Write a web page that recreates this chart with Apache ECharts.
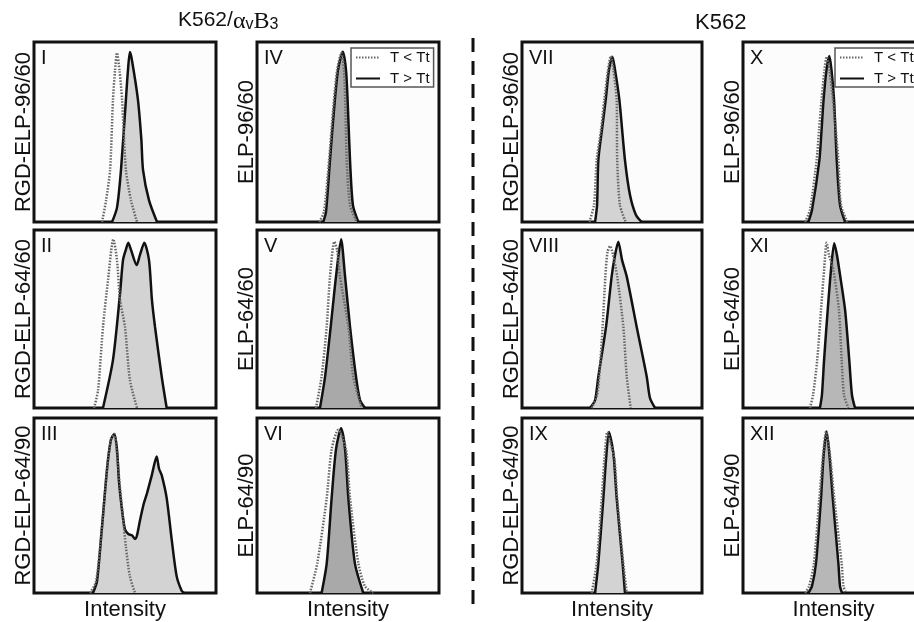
<!DOCTYPE html>
<html>
<head>
<meta charset="utf-8">
<script src="https://cdn.jsdelivr.net/npm/echarts@6/dist/echarts.min.js"></script>
<style>
html, body { margin: 0; padding: 0; background: #fff; overflow: hidden; }
#chart { width: 940px; height: 622px; }
</style>
</head>
<body>
<div id="chart"></div>
<script>
const panelNames = ['I', 'II', 'III', 'IV', 'V', 'VI', 'VII', 'VIII', 'IX', 'X', 'XI', 'XII'];
const sampleLabels = [
    'RGD-ELP-96/60', 'RGD-ELP-64/60', 'RGD-ELP-64/90',
    'ELP-96/60', 'ELP-64/60', 'ELP-64/90',
    'RGD-ELP-96/60', 'RGD-ELP-64/60', 'RGD-ELP-64/90',
    'ELP-96/60', 'ELP-64/60', 'ELP-64/90'
];
const seriesNames = ['T < Tt', 'T > Tt'];
const axisName = 'Intensity';

// [intensity %, count %]; below = T < Tt (dotted), above = T > Tt (solid)
const belowI = [[37.4,0],[39.6,12],[41.8,29],[43.4,68],[44.5,84],[45.6,94],[47,84],[48.4,68],[50.5,29],[53.3,12],[56.6,0]];
const aboveI = [[42.9,0],[45.6,8],[47.8,29],[50.5,68],[51.6,84],[52.7,94.4],[53.8,90],[57.1,68],[59,45.6],[59.9,29],[63.2,12],[67.6,0]];

const belowII = [[33,0],[35.2,10],[37.9,45.5],[40.7,72],[43.6,94.8],[45.6,83],[47.3,60.7],[50,45.5],[52.7,15.7],[56.6,0]];
const aboveII = [[37.9,0],[43.4,27],[47.3,64.6],[48.9,83.1],[50.5,89],[51.8,92.9],[53.3,88.8],[56.4,80.3],[58.2,86],[60.6,92.9],[63.2,83.1],[64.8,60.7],[66.5,45.5],[70.2,17.4],[72.9,0]];

const belowIII = [[30.8,0],[34.1,6.7],[37.2,35.8],[40.3,72.6],[42.3,87.7],[44.1,90.9],[45.6,79.3],[47.3,59.8],[48.9,43],[50.5,26.3],[52.7,9.5],[55.5,0]];
const aboveIII = [[32.4,0],[34.6,6.7],[37.2,35.8],[40.3,72.6],[42.3,87.7],[44.1,90.9],[45.6,82.1],[46.7,63.7],[48.7,44.7],[50,36.3],[51.8,33.7],[53.8,33],[55.5,30.9],[56.6,33],[58.2,41.3],[60.4,51.4],[62.1,57],[64.7,67.2],[67.4,78],[68.7,71],[70.2,67.2],[72.9,54.2],[75.7,30.2],[78.4,9.5],[81.2,1.1],[82.4,0]];

const belowIV = [[34.2,0],[36.8,5.6],[39.6,34.4],[41.8,62.2],[44,84.4],[46.4,93.9],[47.8,84.4],[48.6,62.2],[49.3,34.4],[51.1,9.4],[54.8,0]];
const aboveIV = [[36.4,0],[37.9,5.6],[40.1,34.4],[42.3,62.2],[44.5,84.4],[47.1,94.6],[48.9,84.4],[50,62.2],[51.1,34.4],[52.7,9.4],[55.7,0]];

const belowV = [[32.4,0],[35.5,17.6],[38.3,45.7],[40.1,73.8],[42.5,93.4],[44,88.8],[45.6,73.8],[50.2,45.7],[52.9,17.6],[57.5,0]];
const aboveV = [[34.6,0],[37.4,17.6],[40.5,45.7],[43.4,73.8],[46.2,94.8],[48.4,73.8],[51.1,45.7],[54.4,17.6],[56.6,4.5],[59.3,0]];

const belowVI = [[29.1,0],[33.1,16.9],[38.3,54.2],[41,82.1],[44.7,93.3],[48.9,82.1],[51.1,54.2],[55.7,16.9],[59.3,3.9],[63.9,0]];
const aboveVI = [[35.5,0],[38.3,16.9],[41,54.2],[43.4,82.1],[46.2,94.2],[48.4,82.1],[50.2,54.2],[53.8,16.9],[58.4,0]];

const belowVII = [[37.4,0],[40,9.4],[41.5,34.4],[43.9,51.1],[45.7,67.8],[47.8,84.4],[49.3,92.2],[50.8,84.4],[52.6,67.8],[52.9,34.4],[54.4,9.4],[57.6,0]];
const aboveVII = [[40.6,0],[41.7,9.4],[42.4,34.4],[44.4,51.1],[46.5,67.8],[48.3,84.4],[50.2,91.8],[51.7,84.4],[54.1,67.8],[57.2,34.4],[60,15],[63.3,3.9],[66.5,0]];

const belowVIII = [[38.7,0],[41.7,7.3],[42.9,17.6],[44.8,45.7],[46.3,73.8],[47.5,87.6],[48.9,91],[50.6,86],[52.9,73.8],[56.3,45.7],[58.2,17.6],[60.4,0]];
const aboveVIII = [[37.8,0],[40.6,4.5],[42.4,17.6],[46.7,45.7],[49.8,73.8],[51.7,86],[53.5,93.4],[55.6,83.1],[58.2,73.8],[63.7,45.7],[69.3,17.6],[71.1,5.6],[73.9,0]];

const belowIX = [[38.7,0],[41.5,16.9],[44.3,54.2],[45.8,76.5],[47.4,92],[49.4,84.9],[51.4,76.5],[52.9,54.2],[56.3,16.9],[58.2,0]];
const aboveIX = [[40.6,0],[42.4,16.9],[45.2,54.2],[46.7,76.5],[48.3,92],[50,84.9],[51.1,76.5],[52.6,54.2],[55.9,16.9],[57.2,0]];

const belowX = [[34.3,0],[37,6.7],[40.7,34.4],[42,51.1],[43.4,67.8],[45,84.4],[46.2,91.8],[47.8,84.4],[49.7,67.8],[52.7,34.4],[54.1,9.4],[57.6,0]];
const aboveX = [[36.1,0],[38.1,6.7],[42.2,34.4],[43.4,51.1],[44.5,67.8],[46.1,84.4],[47.7,92.2],[48.9,84.4],[50.3,67.8],[51.8,34.4],[53.6,9.4],[56.4,0]];

const belowXI = [[37,0],[38.7,7.3],[41,27],[43.1,55.1],[44.8,77.5],[46.2,92.9],[47.5,86],[49.9,77.5],[53,55.1],[54.5,27],[55.8,7.3],[58.2,0]];
const aboveXI = [[42.5,0],[43.6,7.3],[44.8,27],[46.8,55.1],[48.6,77.5],[50.4,92.5],[51.9,86],[53.2,77.5],[56.4,55.1],[58.7,27],[60.2,7.3],[61.9,0]];

const belowXII = [[34.3,0],[36.5,3.9],[39.2,16.9],[42.2,54.2],[44.2,78.4],[45.9,92.2],[48.1,78.4],[50.4,54.2],[54.5,16.9],[55.5,3.9],[56.9,0]];
const aboveXII = [[36.1,0],[38.1,3.9],[40.3,16.9],[43.1,54.2],[44.5,78.4],[46.2,92.3],[47.8,78.4],[49.6,54.2],[52.7,16.9],[53.6,3.9],[54.7,0]];

const belowAll = [belowI, belowII, belowIII, belowIV, belowV, belowVI, belowVII, belowVIII, belowIX, belowX, belowXI, belowXII];
const aboveAll = [aboveI, aboveII, aboveIII, aboveIV, aboveV, aboveVI, aboveVII, aboveVIII, aboveIX, aboveX, aboveXI, aboveXII];

// layout (the last column runs past the right edge of the window, like the reference)
const colLeft = [34, 257, 522, 743];
const colWidth = [182, 182, 180, 181];
const rowTop = [42, 230, 418];
const rowHeight = [180, 178, 179];
const fillColors = ['#d3d3d3', '#a9a9a9', '#d3d3d3', '#b7b7b7'];
const font = 'Liberation Sans, Arial, sans-serif';

const grids = [], xAxes = [], yAxes = [], series = [], titles = [];

panelNames.forEach((name, i) => {
    const col = Math.floor(i / 3), row = i % 3;
    grids.push({
        left: colLeft[col], top: rowTop[row], width: colWidth[col], height: rowHeight[row],
        show: true, borderColor: '#111', borderWidth: 3, backgroundColor: '#fcfcfc'
    });
    xAxes.push({
        gridIndex: i, type: 'value', min: 0, max: 100,
        axisLine: { show: false }, axisTick: { show: false }, axisLabel: { show: false }, splitLine: { show: false },
        name: row === 2 ? axisName : '', nameLocation: 'middle', nameGap: 6,
        nameTextStyle: { fontSize: 22, color: '#111', fontFamily: font, verticalAlign: 'top' }
    });
    yAxes.push({
        gridIndex: i, type: 'value', min: 0, max: 100,
        axisLine: { show: false }, axisTick: { show: false }, axisLabel: { show: false }, splitLine: { show: false },
        name: sampleLabels[i], nameLocation: 'middle', nameRotate: 90, nameGap: -1,
        nameTextStyle: { fontSize: 22, color: '#111', fontFamily: font, verticalAlign: 'bottom' }
    });
    series.push({
        name: seriesNames[1], type: 'line', xAxisIndex: i, yAxisIndex: i,
        data: aboveAll[i], symbol: 'none', smooth: 0.25,
        lineStyle: { color: '#111', width: 2.5 },
        itemStyle: { color: '#111' },
        areaStyle: { color: fillColors[col], opacity: 1 },
        z: 2
    });
    series.push({
        name: seriesNames[0], type: 'line', xAxisIndex: i, yAxisIndex: i,
        data: belowAll[i], symbol: 'none', smooth: 0.25,
        lineStyle: { color: '#666', width: 2.5, type: [1.5, 1.5] },
        itemStyle: { color: '#666' },
        z: 3
    });
    titles.push({
        text: name, left: colLeft[col] + 7, top: rowTop[row] + 6, padding: 0,
        textStyle: { fontSize: 20, fontWeight: 'normal', color: '#111', fontFamily: font }
    });
});

titles.push({
    text: '{a|K562/}{g|α}{s|v}{g|B}{s|3}', left: 178, top: 10, padding: 0,
    textStyle: {
        fontWeight: 'normal',
        rich: {
            a: { fontSize: 21, fontWeight: 'normal', fontFamily: font, color: '#111', lineHeight: 25, verticalAlign: 'top' },
            g: { fontSize: 24, fontWeight: 'normal', fontFamily: 'Liberation Serif, serif', color: '#111', lineHeight: 25, verticalAlign: 'top' },
            s: { fontSize: 16, fontWeight: 'normal', fontFamily: font, color: '#111', lineHeight: 25, verticalAlign: 'top', padding: [7, 0, 0, 0] }
        }
    }
});
titles.push({
    text: 'K562', left: 695, top: 12, padding: 0,
    textStyle: { fontSize: 22, fontWeight: 'normal', color: '#111', fontFamily: font }
});

const legendBase = {
    orient: 'vertical', top: 48, itemWidth: 24, itemHeight: 10, itemGap: 6,
    padding: [2, 4, 1, 4], borderColor: '#555', borderWidth: 1.5, backgroundColor: '#fff',
    selectedMode: false, data: seriesNames,
    itemStyle: { opacity: 0 },
    textStyle: { fontSize: 15, lineHeight: 13, color: '#111', fontFamily: font, padding: [0, 0, 0, 5] }
};

const myChart = echarts.init(document.getElementById('chart'));
myChart.setOption({
    animation: false,
    backgroundColor: '#fff',
    title: titles,
    legend: [
        Object.assign({}, legendBase, { left: 351 }),
        Object.assign({}, legendBase, { left: 835 })
    ],
    grid: grids,
    xAxis: xAxes,
    yAxis: yAxes,
    series: series,
    graphic: [{
        type: 'line', shape: { x1: 473, y1: 38, x2: 473, y2: 606 },
        style: { stroke: '#111', lineWidth: 3, lineDash: [14, 9] }
    }]
});
window.addEventListener('resize', () => myChart.resize());
</script>
</body>
</html>
